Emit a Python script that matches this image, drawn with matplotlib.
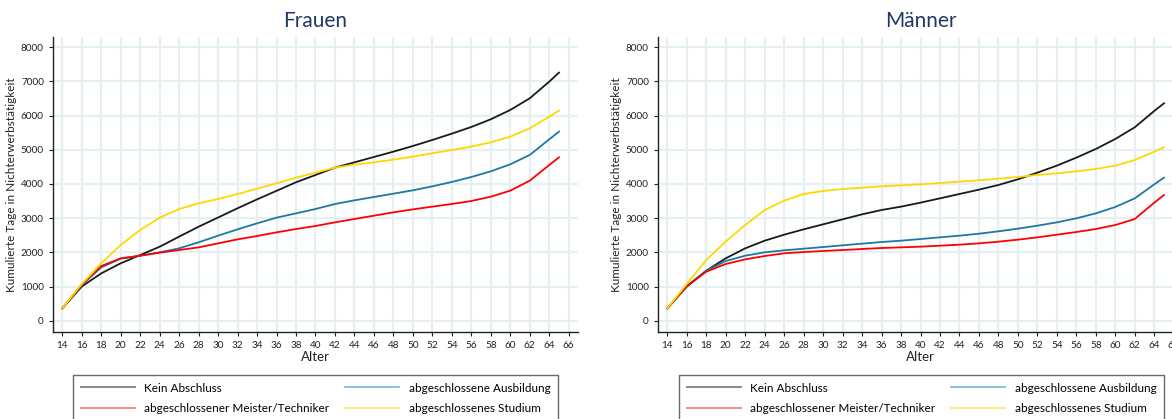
import matplotlib
matplotlib.use("Agg")
import matplotlib.pyplot as plt
from matplotlib.lines import Line2D

plt.rcParams["font.family"] = ["Lato", "DejaVu Sans"]

ages = [14, 16, 18, 20, 22, 24, 26, 28, 30, 32, 34, 36, 38, 40,
        42, 44, 46, 48, 50, 52, 54, 56, 58, 60, 62, 64, 65]

series_names = ["Kein Abschluss", "abgeschlossene Ausbildung",
                "abgeschlossener Meister/Techniker", "abgeschlossenes Studium"]

frauen_kein = [360, 1000, 1385, 1680, 1920, 2165, 2460, 2750, 3020, 3290, 3550, 3800, 4050, 4263,
               4478, 4634, 4790, 4946, 5112, 5288, 5473, 5668, 5893, 6166, 6507, 6995, 7259]
frauen_ausbildung = [360, 1044, 1561, 1815, 1902, 2000, 2117, 2293, 2488, 2673, 2849, 3015, 3141, 3268,
                     3415, 3522, 3620, 3717, 3815, 3932, 4059, 4205, 4371, 4576, 4849, 5307, 5532]
frauen_meister = [360, 1063, 1600, 1824, 1902, 1990, 2068, 2146, 2263, 2380, 2478, 2585, 2683, 2771,
                  2878, 2976, 3073, 3171, 3258, 3337, 3415, 3502, 3629, 3805, 4098, 4556, 4780]
frauen_studium = [360, 1073, 1680, 2215, 2654, 3015, 3268, 3434, 3561, 3707, 3863, 4020, 4185, 4332,
                  4478, 4566, 4634, 4712, 4800, 4898, 4995, 5093, 5220, 5385, 5629, 5971, 6146]

maenner_kein = [360, 995, 1463, 1824, 2117, 2341, 2517, 2673, 2820, 2966, 3112, 3239, 3337, 3454,
                3580, 3707, 3834, 3971, 4137, 4332, 4537, 4771, 5024, 5317, 5659, 6137, 6361]
maenner_ausbildung = [360, 1015, 1463, 1746, 1902, 2000, 2059, 2107, 2156, 2205, 2254, 2302, 2341, 2390,
                      2439, 2488, 2546, 2615, 2693, 2780, 2878, 2995, 3141, 3327, 3580, 3990, 4185]
maenner_meister = [360, 1015, 1434, 1659, 1795, 1893, 1971, 2010, 2039, 2068, 2098, 2127, 2146, 2166,
                   2195, 2224, 2263, 2312, 2371, 2439, 2517, 2595, 2683, 2800, 2976, 3454, 3678]
maenner_studium = [360, 1073, 1776, 2312, 2800, 3239, 3512, 3707, 3795, 3854, 3893, 3932, 3961, 3990,
                   4029, 4068, 4107, 4156, 4205, 4263, 4312, 4371, 4439, 4537, 4702, 4946, 5073]

colors = ["#1a1a1a", "#1b79a3", "#ff0000", "#ffd800"]
legend_colors = ["#7f7f7f", "#7fbcd9", "#ff7f7f", "#ffe97a"]

panels = [
    ("Frauen", [frauen_kein, frauen_ausbildung, frauen_meister, frauen_studium]),
    ("Männer", [maenner_kein, maenner_ausbildung, maenner_meister, maenner_studium]),
]

W, H = 1172, 419
fig = plt.figure(figsize=(W / 100, H / 100), dpi=100)

axes_left = [53, 658]
legend_left = [73, 679]
for (title, data), left_px, leg_px in zip(panels, axes_left, legend_left):
    ax = fig.add_axes([left_px / W, 1 - 332 / H, 525 / W, 295 / H])
    for values, color in zip(data, colors):
        ax.plot(ages, values, color=color, lw=1.3)
    ax.set_xlim(13.05, 66.95)
    ax.set_ylim(-330, 8300)
    ax.set_xticks(range(14, 67, 2))
    ax.set_yticks(range(0, 8001, 1000))
    ax.grid(True, color="#e6eff2", lw=1.6)
    ax.set_axisbelow(True)
    for side in ("top", "right"):
        ax.spines[side].set_visible(False)
    for side in ("left", "bottom"):
        ax.spines[side].set_color("#222222")
        ax.spines[side].set_linewidth(1.0)
    ax.tick_params(labelsize=7.2, colors="#222222", length=3, width=0.8)
    ax.set_xlabel("Alter", fontsize=9.5, color="#222222", labelpad=1)
    ax.set_ylabel("Kumulierte Tage in Nichterwerbstätigkeit", fontsize=8.5, color="#222222", labelpad=3)
    ax.set_title(title, fontsize=15, color="#203864", pad=7)

    handles = [Line2D([], [], color=c, lw=1.3) for c in legend_colors]
    order = [0, 2, 1, 3]
    fig.legend([handles[i] for i in order], [series_names[i] for i in order],
               loc="upper left", bbox_to_anchor=(leg_px / W, 1 - 375 / H, 485 / W, 0.0001),
               mode="expand", ncol=2, fontsize=8.5, frameon=True, fancybox=False,
               edgecolor="#444444", handlelength=4.6, handletextpad=0.8,
               borderpad=0.65, labelspacing=0.8, borderaxespad=0)

fig.savefig("out.png", dpi=100)
